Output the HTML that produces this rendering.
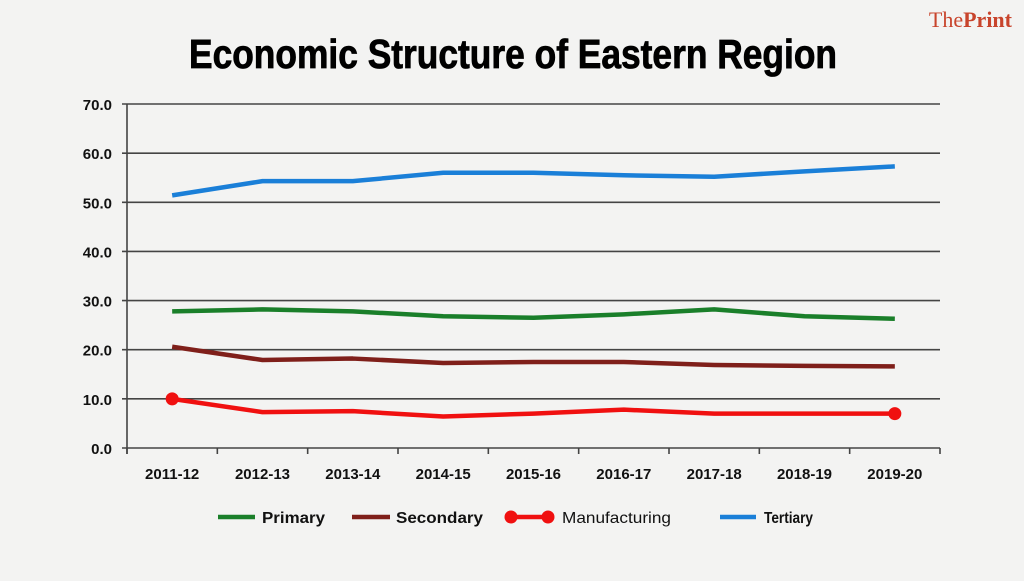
<!DOCTYPE html>
<html><head><meta charset="utf-8"><style>
body{margin:0;width:1024px;height:576px;background:#f3f3f2;overflow:hidden;font-family:"Liberation Sans",sans-serif}
</style></head><body>
<svg width="1024" height="576" id="chart">
<rect width="1024" height="576" fill="#f3f3f2"/>
<text x="513" y="68" text-anchor="middle" font-size="41" font-weight="bold" fill="#000" stroke="#000" stroke-width="0.8" textLength="648" lengthAdjust="spacingAndGlyphs">Economic Structure of Eastern Region</text>
<text x="1012" y="27" text-anchor="end" font-family="Liberation Serif,serif" font-size="22" fill="#c8442c">The<tspan font-weight="bold">Print</tspan></text>
<g id="grid"></g><g id="series"></g><g id="legend"></g>
</svg>
<script>
const categories=["2011-12","2012-13","2013-14","2014-15","2015-16","2016-17","2017-18","2018-19","2019-20"];
const yTicks=[0,10,20,30,40,50,60,70];
const yTickLabels=["0.0","10.0","20.0","30.0","40.0","50.0","60.0","70.0"];
const primary=[27.8,28.2,27.8,26.8,26.5,27.2,28.2,26.8,26.3];
const secondary=[20.6,17.9,18.2,17.3,17.5,17.5,16.9,16.7,16.6];
const manufacturing=[10.0,7.3,7.5,6.4,7.0,7.8,7.0,7.0,7.0];
const tertiary=[51.4,54.3,54.3,56.0,56.0,55.5,55.2,56.3,57.3];
const NS="http://www.w3.org/2000/svg";
const L=127,R=940,T=104,B=448,ymax=70;
const bw=(R-L)/categories.length;
const x=i=>L+bw*(i+0.5);
const y=v=>B-(v/ymax)*(B-T);
function mk(tag,attrs,parent){const e=document.createElementNS(NS,tag);for(const k in attrs)e.setAttribute(k,attrs[k]);parent.appendChild(e);return e;}
const grid=document.getElementById('grid');
yTicks.forEach((t,i)=>{
 const ln=mk('line',{x1:L-5,x2:R,y1:y(t),y2:y(t),stroke:'#444','stroke-width':1.6},grid);
 
 
 const tx=mk('text',{x:L-15,y:y(t)+6,'text-anchor':'end','font-size':15,'font-weight':'bold',fill:'#111'},grid);
 tx.textContent=yTickLabels[i];
 
 
});
const ax=mk('line',{x1:L,x2:L,y1:T,y2:B+6,stroke:'#444','stroke-width':1.6},grid);


for(let i=0;i<=categories.length;i++){
 const tk=mk('line',{x1:L+bw*i,x2:L+bw*i,y1:B,y2:B+6,stroke:'#444','stroke-width':1.6},grid);
 
 
}
categories.forEach((c,i)=>{
 const tx=mk('text',{x:x(i),y:B+31,'text-anchor':'middle','font-size':15,'font-weight':'bold',fill:'#111'},grid);
 tx.textContent=c;
 
 
});
const sg=document.getElementById('series');
const defs=[["primary",primary,"#1a7f2a","Primary",false],["secondary",secondary,"#7f1f1a","Secondary",false],["manufacturing",manufacturing,"#f01010","Manufacturing",true],["tertiary",tertiary,"#1a7fd8","Tertiary",false]];
defs.forEach(([n,d,col,lab,mark])=>{
 const p=mk('polyline',{points:d.map((v,i)=>x(i)+','+y(v)).join(' '),fill:'none',stroke:col,'stroke-width':4.5,'stroke-linejoin':'round'},sg);
 
 
 if(mark){[0,d.length-1].forEach(i=>{
  const c=mk('circle',{cx:x(i),cy:y(d[i]),r:6.5,fill:col},sg);
  
  
 });}
});
const lg=document.getElementById('legend');
const lx=[218,352,511,720];
const lw=[37,38,37,36];
const tx0=[262,396,562,764];
const tw=[63,87,109,49];
defs.forEach(([n,d,col,lab,mark],i)=>{
 const g=mk('g',{},lg);
 
 
 mk('line',{x1:lx[i],x2:lx[i]+lw[i],y1:517,y2:517,stroke:col,'stroke-width':4.5},g);
 if(mark){
  mk('circle',{cx:lx[i],cy:517,r:6.5,fill:col},g);
  mk('circle',{cx:lx[i]+lw[i],cy:517,r:6.5,fill:col},g);
 }
 const t=mk('text',{x:tx0[i],y:523,'font-size':16,'font-weight':i==2?'normal':'bold',fill:'#111',textLength:tw[i],lengthAdjust:'spacingAndGlyphs'},g);
 t.textContent=lab;
});
</script>
</body></html>
